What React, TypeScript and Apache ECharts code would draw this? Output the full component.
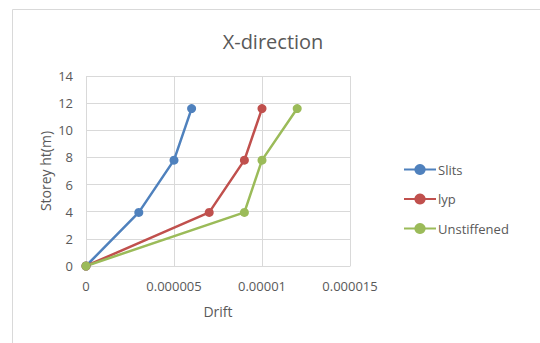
import React, { useEffect, useRef } from "react";
import * as echarts from "echarts";

const seriesNames = ["Slits", "lyp", "Unstiffened"];
const storeyHeights = [0, 3.95, 7.8, 11.6];
const slitsDrift = [0, 0.000003, 0.000005, 0.000006];
const lypDrift = [0, 0.000007, 0.000009, 0.00001];
const unstiffenedDrift = [0, 0.000009, 0.00001, 0.000012];
const colors = ["#4F81BD", "#C0504D", "#9BBB59"];

const driftSets = [slitsDrift, lypDrift, unstiffenedDrift];

const fmtX = (v: number) => (v === 0 ? "0" : v.toFixed(6).replace(/0+$/, ""));

export default function App() {
  const ref = useRef<HTMLDivElement>(null);
  useEffect(() => {
    if (!ref.current) return;
    const chart = echarts.init(ref.current, undefined, { renderer: "svg" });
    const font = "'Open Sans', 'Noto Sans', sans-serif";
    chart.setOption({
      animation: false,
      backgroundColor: "#ffffff",
      textStyle: { fontFamily: font },
      title: {
        text: "X-direction",
        left: 268,
        textAlign: "center",
        top: 26,
        textStyle: { fontSize: 20, fontWeight: "normal", color: "#595959", fontFamily: font },
      },
      graphic: [
        {
          type: "rect",
          shape: { x: 12.5, y: 9.5, width: 600, height: 400 },
          style: { fill: "none", stroke: "#D9D9D9", lineWidth: 1 },
          silent: true,
        },
      ],
      legend: {
        orient: "vertical",
        left: 398,
        top: 158,
        itemWidth: 32,
        itemHeight: 14,
        itemGap: 16.5,
        data: seriesNames,
        textStyle: { fontSize: 13, color: "#595959", fontFamily: font, padding: [0, 0, 0, -3] },
      },
      grid: { left: 86, right: 190, top: 76, bottom: 77, containLabel: false },
      xAxis: {
        type: "value",
        min: 0,
        max: 0.000015,
        interval: 0.000005,
        name: "Drift",
        nameLocation: "middle",
        nameGap: 38,
        nameTextStyle: { fontSize: 14, color: "#595959" },
        axisLine: { show: true, lineStyle: { color: "#D9D9D9" } },
        axisTick: { show: false },
        axisLabel: { formatter: fmtX, fontSize: 13, color: "#595959", margin: 13 },
        splitLine: { show: true, lineStyle: { color: "#D9D9D9" } },
      },
      yAxis: {
        type: "value",
        min: 0,
        max: 14,
        interval: 2,
        name: "Storey ht(m)",
        nameLocation: "middle",
        nameGap: 34,
        nameTextStyle: { fontSize: 14, color: "#595959" },
        axisLine: { show: false },
        axisTick: { show: false },
        axisLabel: { fontSize: 13, color: "#595959", margin: 13 },
        splitLine: { show: true, lineStyle: { color: "#D9D9D9" } },
      },
      series: seriesNames.map((name, i) => ({
        name,
        type: "line",
        data: driftSets[i].map((d, j) => [d, storeyHeights[j]]),
        symbol: "circle",
        symbolSize: 9,
        itemStyle: { color: colors[i] },
        lineStyle: { width: 2.5, color: colors[i] },
      })),
    });
    return () => chart.dispose();
  }, []);
  return (
    <div
      ref={ref}
      style={{ position: "absolute", left: 0, top: 0, width: 540, height: 343 }}
    />
  );
}
